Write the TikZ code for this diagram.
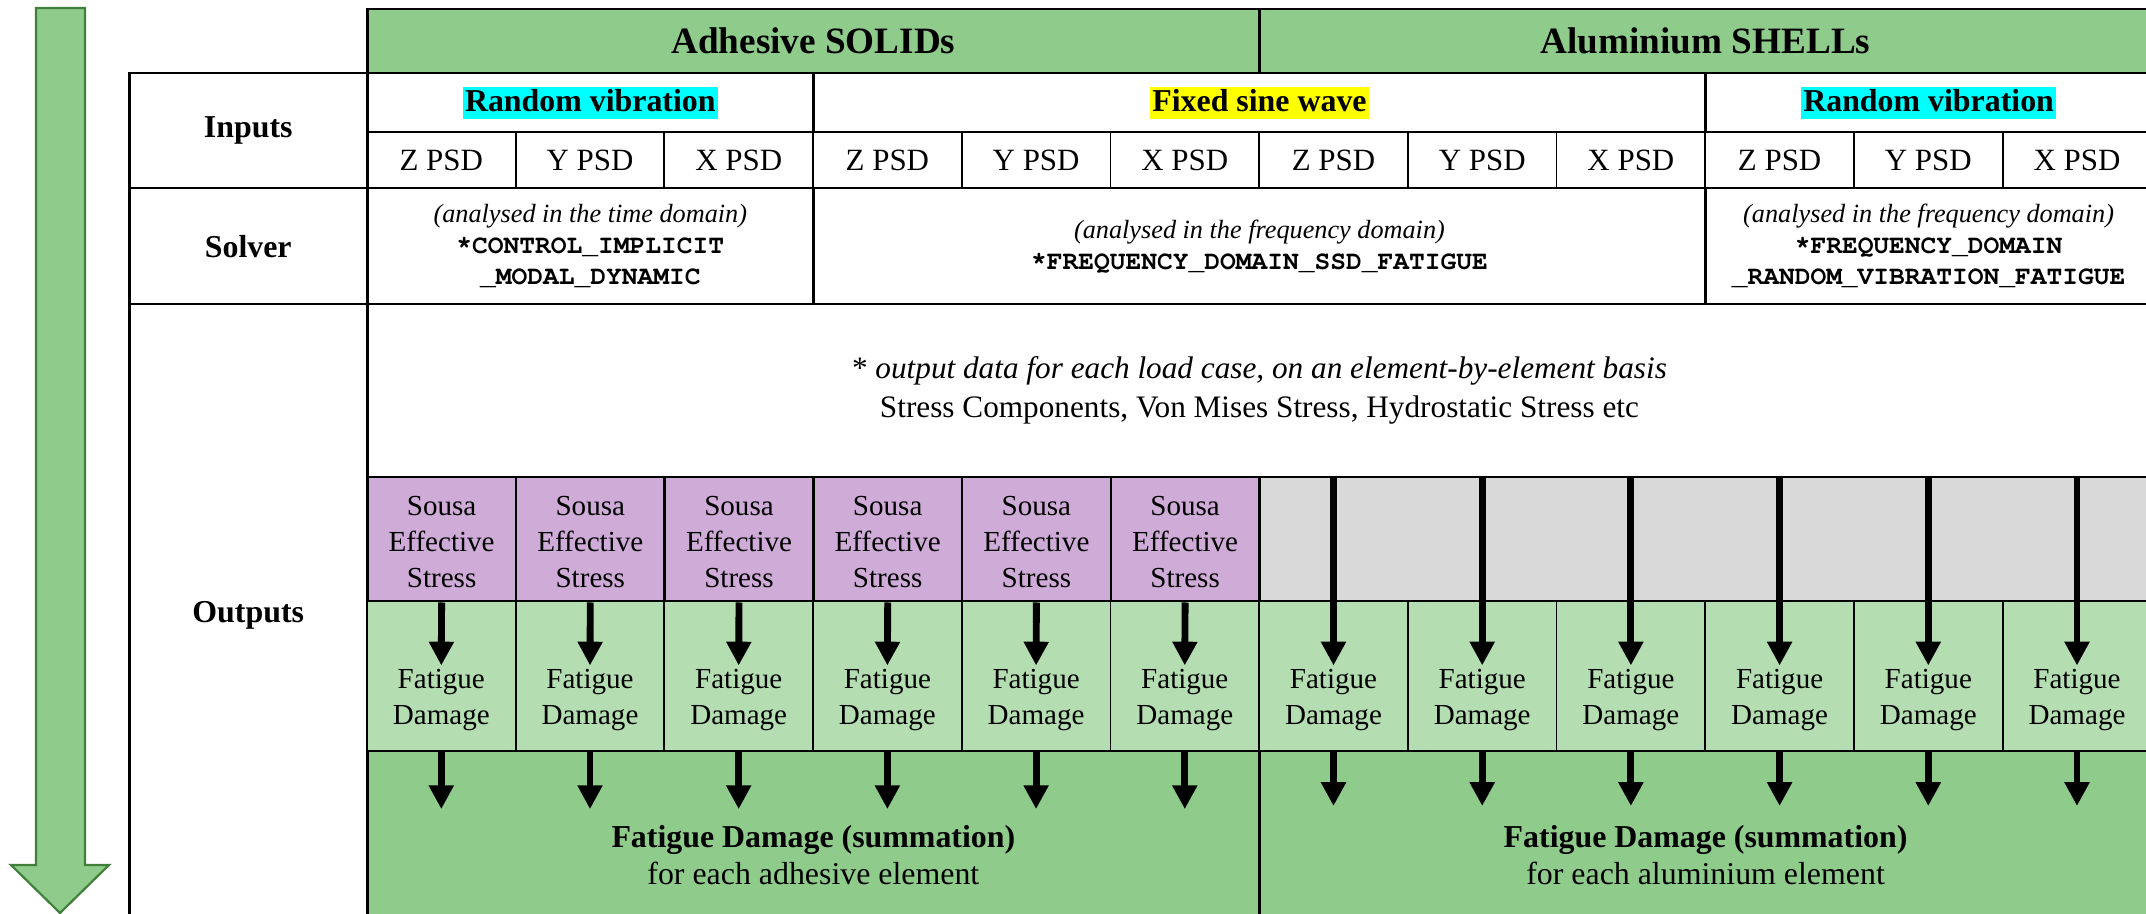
\documentclass[tikz,border=0pt]{standalone}
\usepackage{fontspec}
\setmainfont{Liberation Serif}
\setmonofont{TeX Gyre Cursor}
\usetikzlibrary{arrows.meta,calc,positioning}
\definecolor{hdrgreen}{HTML}{8FCC8C}
\definecolor{dmggreen}{HTML}{B4DEB1}
\definecolor{sousapurple}{HTML}{CFABD8}
\definecolor{shellgrey}{HTML}{D9D9D9}
\definecolor{flowedge}{HTML}{41803A}
\definecolor{randomhl}{HTML}{00FFFF}
\definecolor{sinehl}{HTML}{FFFF00}
\newcommand{\pxu}{0.32pt}
\newcommand{\colw}{148.7}
\newcommand{\hilite}[2]{{\setlength{\fboxsep}{0.8pt}\colorbox{#1}{\rule[-1.7pt]{0pt}{8.4pt}#2}}}
\tikzset{%
	box/.style    = {draw, line width=0.8pt, inner sep=0pt, anchor=north west, align=center},
	thinbox/.style= {box, line width=0.6pt},
	hdr/.style    = {font=\fontsize{11.9}{14}\selectfont\bfseries},
	lbl/.style    = {font=\fontsize{10.2}{12}\selectfont\bfseries},
	psd/.style    = {font=\fontsize{9.9}{12}\selectfont},
	solv/.style   = {font=\fontsize{8.4}{9.9}\selectfont},
	elem/.style   = {align=center, inner sep=2pt, font=\fontsize{9.3}{11.5}\selectfont},
	summ/.style   = {align=center, inner xsep=2pt, inner ysep=5pt, font=\fontsize{10.2}{11.8}\selectfont},
	flow/.style   = {line width=2.2pt, -{Triangle[width=7.6pt,length=7.6pt]}},
}

\begin{document}
\begin{tikzpicture}[x=\pxu,y=-\pxu]
	\useasboundingbox (0,0) rectangle (2146,914);
	\clip (0,0) rectangle (2146,914);
	% process direction
	\draw[fill=hdrgreen, draw=flowedge, line width=0.7pt] (36,8) -- (85,8) -- (85,865) -- (109,865) -- (60,913) -- (11,865) -- (36,865) -- cycle;
	
	% headers and row labels
	\node[box, fill=hdrgreen, minimum width=6*\colw*\pxu, minimum height=64*\pxu, hdr] (adh) at (366,8) {Adhesive SOLIDs};
	\node[box, fill=hdrgreen, minimum width=6*\colw*\pxu, minimum height=64*\pxu, hdr] (alu) at ({366+6*\colw},8) {Aluminium SHELLs};
	\node[box, minimum width=238*\pxu, minimum height=115*\pxu, lbl] (inputs) at (128,72) {Inputs};
	\node[box, minimum width=238*\pxu, minimum height=116*\pxu, lbl] (solver) at (128,187) {Solver};
	\node[box, minimum width=238*\pxu, minimum height=622*\pxu, lbl] (outputs) at (128,303) {Outputs};
	
	% inputs
	\node[box, minimum width=3*\colw*\pxu, minimum height=59*\pxu, lbl] (load1) at (366,72) {\hilite{randomhl}{Random vibration}};
	\node[box, minimum width=6*\colw*\pxu, minimum height=59*\pxu, lbl] (load2) at ({366+3*\colw},72) {\hilite{sinehl}{Fixed sine wave}};
	\node[box, minimum width=3*\colw*\pxu, minimum height=59*\pxu, lbl] (load3) at ({366+9*\colw},72) {\hilite{randomhl}{Random vibration}};
	\foreach \ax [count=\i from 0] in {Z,Y,X,Z,Y,X,Z,Y,X,Z,Y,X}
		\node[thinbox, minimum width=\colw*\pxu, minimum height=56*\pxu, psd] (psd\i) at ({366+\i*\colw},131) {\ax{} PSD};
	
	% solvers
	\node[box, minimum width=3*\colw*\pxu, minimum height=116*\pxu, solv] (solv1) at (366,187)
		{\textit{(analysed in the time domain)}\\\ttfamily\bfseries *CONTROL\_IMPLICIT\\\ttfamily\bfseries \_MODAL\_DYNAMIC};
	\node[box, minimum width=6*\colw*\pxu, minimum height=116*\pxu, solv] (solv2) at ({366+3*\colw},187)
		{\textit{(analysed in the frequency domain)}\\\ttfamily\bfseries *FREQUENCY\_DOMAIN\_SSD\_FATIGUE};
	\node[box, minimum width=3*\colw*\pxu, minimum height=116*\pxu, solv] (solv3) at ({366+9*\colw},187)
		{\textit{(analysed in the frequency domain)}\\\ttfamily\bfseries *FREQUENCY\_DOMAIN\\\ttfamily\bfseries \_RANDOM\_VIBRATION\_FATIGUE};
	
	% outputs
	\node[box, minimum width=12*\colw*\pxu, minimum height=173*\pxu, font=\fontsize{10}{12.5}\selectfont] (odata) at (366,303)
		{* \textit{output data for each load case, on an element-by-element basis}\\Stress Components, Von Mises Stress, Hydrostatic Stress etc};
	\foreach \i in {0,...,5} {
		\node[box, fill=sousapurple, minimum width=\colw*\pxu, minimum height=124*\pxu] (sousa\i) at ({366+\i*\colw},476) {};
		\node[elem] (sst\i) at ($(sousa\i.center)+(0,3)$) {Sousa\\Effective\\Stress};
	}
	\node[box, fill=shellgrey, minimum width=6*\colw*\pxu, minimum height=124*\pxu] (grey) at ({366+6*\colw},476) {};
	\foreach \i in {0,...,11} {
		\node[thinbox, fill=dmggreen, minimum width=\colw*\pxu, minimum height=150*\pxu] (fat\i) at ({366+\i*\colw},600) {};
		\node[elem] (fdt\i) at ($(fat\i.center)+(0,24)$) {Fatigue\\Damage};
	}
	\node[box, fill=hdrgreen, minimum width=6*\colw*\pxu, minimum height=175*\pxu] (sumA) at (366,750) {};
	\node[box, fill=hdrgreen, minimum width=6*\colw*\pxu, minimum height=175*\pxu] (sumB) at ({366+6*\colw},750) {};
	\node[summ] (sumtA) at ($(sumA.north)+(0,105)$) {\textbf{Fatigue Damage (summation)}\\for each adhesive element};
	\node[summ, inner ysep=6pt] (sumtB) at ($(sumB.north)+(0,105)$) {\textbf{Fatigue Damage (summation)}\\for each aluminium element};
	
	% connectors
	\foreach \i in {0,...,5} {
		\draw[flow] (sousa\i.south) -- ([yshift=-1pt]fdt\i.north);
		\draw[flow] (fat\i.south) -- (fat\i.south |- sumtA.north);
	}
	\foreach \i in {6,...,11} {
		\draw[flow] (fat\i.north |- grey.north) -- ([yshift=-1pt]fdt\i.north);
		\draw[flow] (fat\i.south) -- (fat\i.south |- sumtB.north);
	}
\end{tikzpicture}
\end{document}
